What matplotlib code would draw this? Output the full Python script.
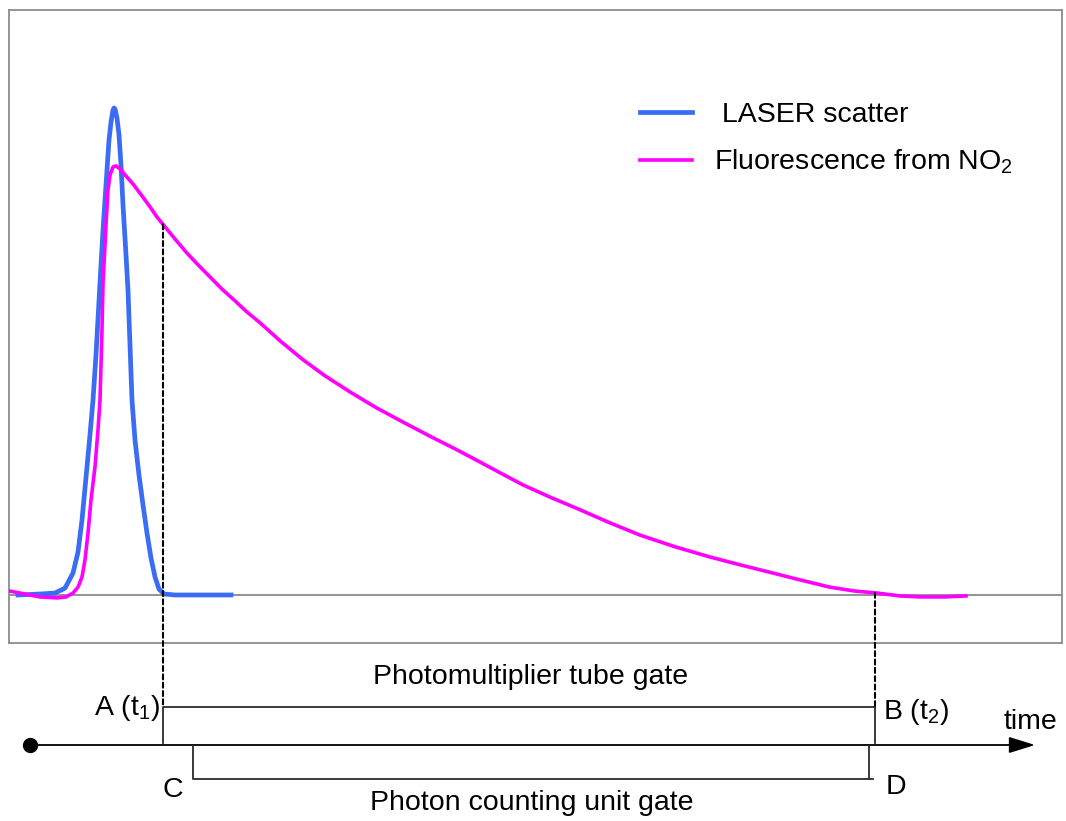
import numpy as np
import matplotlib
matplotlib.use('Agg')
import matplotlib.pyplot as plt
from matplotlib.patches import ConnectionPatch, FancyArrowPatch

plt.rcParams['font.family'] = ['Liberation Sans', 'DejaVu Sans']
plt.rcParams['mathtext.default'] = 'regular'
font_size = 20.5

# time in arbitrary units, intensity normalised to the laser peak
laser_t = [0.9, 3.1, 4.6, 5.6, 6.4, 6.9, 7.3, 7.8, 8.1, 8.4, 8.7, 9.1, 9.4, 9.7,
           10.0, 10.2, 10.4, 10.5, 10.6, 10.8, 11.0, 11.2, 11.4, 11.7, 11.9,
           12.1, 12.3, 12.6, 13.0, 13.4, 13.8, 14.2, 14.6, 15.0, 15.5, 16.6, 22.2]
laser_v = [0.000, 0.002, 0.004, 0.014, 0.045, 0.088, 0.154, 0.263, 0.329, 0.400,
           0.493, 0.641, 0.749, 0.842, 0.934, 0.971, 0.996, 1.000, 0.998, 0.979,
           0.945, 0.883, 0.801, 0.698, 0.626, 0.513, 0.400, 0.318, 0.246, 0.185,
           0.127, 0.076, 0.037, 0.012, 0.002, 0.000, 0.000]

fluor_t = [0.1, 1.6, 3.1, 4.8, 5.7, 6.4, 6.9, 7.3, 7.6, 7.9, 8.2, 8.6, 8.9,
           9.1, 9.3, 9.4, 9.6, 9.7, 9.9, 10.1, 10.4, 10.7, 11.1, 11.8, 12.4,
           13.1, 13.6, 14.1, 14.8, 15.6, 16.6, 17.8, 18.9, 20.1, 21.3, 22.6,
           23.8, 25.1, 27.1, 29.4, 31.6, 34.1, 36.6, 39.4, 42.1, 44.8, 47.1,
           49.1, 51.4, 54.1, 57.1, 60.1, 63.1, 66.6, 70.1, 73.1, 76.4, 79.1,
           82.1, 84.6, 86.8, 89.1, 91.1, 93.6, 95.7]
fluor_v = [0.008, 0.002, -0.004, -0.006, -0.004, 0.004, 0.016, 0.037, 0.072,
           0.127, 0.195, 0.263, 0.339, 0.400, 0.544, 0.641, 0.719, 0.760,
           0.832, 0.862, 0.879, 0.881, 0.875, 0.858, 0.844, 0.825, 0.811,
           0.797, 0.776, 0.756, 0.731, 0.702, 0.678, 0.653, 0.628, 0.604,
           0.581, 0.559, 0.522, 0.483, 0.450, 0.417, 0.386, 0.355, 0.326,
           0.298, 0.273, 0.251, 0.226, 0.201, 0.175, 0.148, 0.123, 0.099,
           0.078, 0.062, 0.045, 0.031, 0.016, 0.008, 0.004, -0.002, -0.004,
           -0.004, -0.002]

# gate edges on the time axis
t_A, t_B = 15.4, 86.6      # photomultiplier tube gate
t_C, t_D = 18.4, 86.0      # photon counting unit gate
t_start, t_end = 2.1, 102.6

fig = plt.figure(figsize=(10.66, 8.21), dpi=100)
ax = fig.add_axes([9 / 1066, 178 / 821, 1053 / 1066, 633 / 821])
tax = fig.add_axes([9 / 1066, 0, 1053 / 1066, 178 / 821], sharex=ax)

ax.plot(laser_t, laser_v, color='#3a6cf4', lw=3.4, label=' LASER scatter',
        solid_joinstyle='round', zorder=3)
ax.plot(fluor_t, fluor_v, color='#ff00ff', lw=2.6, solid_joinstyle='round',
        label='Fluorescence from NO$_2$', zorder=4)
ax.axhline(0, color='#808080', lw=1.2, zorder=1)

ax.set_xlim(0, 105.3)
ax.set_ylim(-0.0986, 1.2012)
ax.set_xticks([])
ax.set_yticks([])
for sp in ax.spines.values():
    sp.set_color('#8c8c8c')
    sp.set_linewidth(1.3)

ax.legend(loc='upper left', bbox_to_anchor=(0.599, 0.854), frameon=False,
          fontsize=font_size, handlelength=1.85, handletextpad=0.75,
          labelspacing=0.68, borderpad=0, borderaxespad=0)

# timing diagram underneath
tax.set_ylim(-2.0, 2.684)
tax.axis('off')
gate_hi, gate_lo = 1.0, -0.895
lc = '#2b2b2b'
tax.plot([t_A, t_A, t_B, t_B], [0.05, gate_hi, gate_hi, 0.05], color=lc, lw=1.3)
tax.plot([t_C, t_C, t_D + 0.4], [-0.03, gate_lo, gate_lo], color=lc, lw=1.3)
tax.plot([t_D, t_D], [-0.03, gate_lo], color=lc, lw=1.3)

arrow = FancyArrowPatch((t_start, 0), (t_end, 0),
                        arrowstyle='-|>,head_length=0.8,head_width=0.25',
                        mutation_scale=20, color='black', lw=1.3, shrinkA=0, shrinkB=0)
tax.add_patch(arrow)
tax.plot([t_start], [0], 'o', color='black', ms=10, clip_on=False)

for t_gate in (t_A, t_B):
    v = np.interp(t_gate, fluor_t, fluor_v)
    con = ConnectionPatch(xyA=(t_gate, v), coordsA=ax.transData,
                          xyB=(t_gate, gate_hi), coordsB=tax.transData,
                          color='black', lw=1.5, linestyle=(0, (2.4, 1.6)))
    fig.add_artist(con)

tax.text(52.2, 1.79, 'Photomultiplier tube gate', fontsize=font_size, ha='center', va='center')
tax.text(52.3, -1.53, 'Photon counting unit gate', fontsize=font_size, ha='center', va='center')
tax.text(15.1, 0.97, 'A (t$_1$)', fontsize=font_size, ha='right', va='center')
tax.text(87.4, 0.87, 'B (t$_2$)', fontsize=font_size, ha='left', va='center')
tax.text(16.4, -1.18, 'C', fontsize=font_size, ha='center', va='center')
tax.text(88.7, -1.10, 'D', fontsize=font_size, ha='center', va='center')
tax.text(102.2, 0.60, 'time', fontsize=font_size, ha='center', va='center')

fig.savefig('out.png', dpi=100)
